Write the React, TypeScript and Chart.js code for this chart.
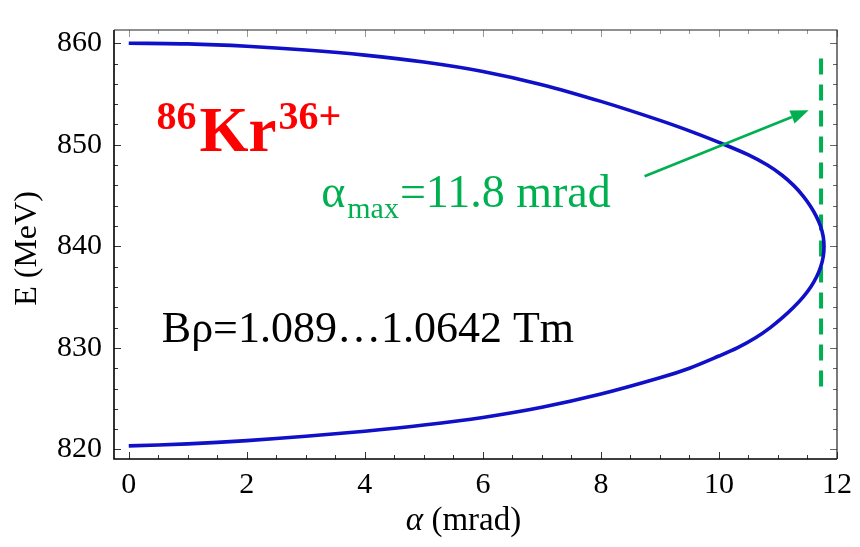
import React, { useEffect, useRef } from "react";
import { Chart, registerables } from "chart.js";

Chart.register(...registerables);

// E(α) curve of 86Kr36+, ordered from the top branch through the vertex to the bottom branch
const alphaMrad = [
  0, 1, 2, 3, 4, 5, 6, 7, 8, 9, 9.6, 10.1,
  10.5, 10.82, 11.07, 11.265, 11.42, 11.545, 11.645, 11.72, 11.765, 11.78,
  11.767, 11.725, 11.655, 11.555, 11.425, 11.265, 11.08, 10.87, 10.62, 10.31,
  10, 9.5, 9, 8, 7, 6, 5, 4, 3, 2, 1, 0,
];
const energyMeV = [
  860.0, 859.93, 859.7, 859.33, 858.83, 858.15, 857.22, 855.92, 854.27, 852.4, 851.15, 850.0,
  849.0, 848.0, 847.0, 846.0, 845.0, 844.0, 843.0, 842.0, 841.0, 840.0,
  839.0, 838.0, 837.0, 836.0, 835.0, 834.0, 833.0, 832.0, 831.0, 830.0,
  829.2, 828.0, 827.05, 825.45, 824.15, 823.15, 822.4, 821.8, 821.3, 820.87, 820.55, 820.35,
];

// α_max marker (dashed vertical line)
const alphaMaxLine = [11.73, 11.73];
const energyMaxLine = [858.5, 825.4];

// arrow from label to dashed line
const arrowAlpha = [8.74, 11.52];
const arrowEnergy = [846.9, 853.4];

const xTicks = [0, 2, 4, 6, 8, 10, 12];
const yTicks = [820, 830, 840, 850, 860];
const xMinorStep = 0.5;
const yMinorStep = 2;

const SERIF = "'Liberation Serif', 'Times New Roman', serif";
const GREEN = "#00b050";
const BLUE = "#1010c8";

const overlayPlugin = {
  id: "overlay",
  afterDraw(chart: any) {
    const ctx = chart.ctx as CanvasRenderingContext2D;
    const xs = chart.scales.x;
    const ys = chart.scales.y;
    const { left, right, top, bottom } = chart.chartArea;
    ctx.save();

    // inner ticks on all 4 sides
    const drawTicksX = (y: number, dir: number, color: string) => {
      ctx.strokeStyle = color;
      ctx.lineWidth = 1;
      for (let v = 0; v <= 12 + 1e-9; v += xMinorStep) {
        const major = Math.abs(v / 2 - Math.round(v / 2)) < 1e-6;
        const len = major ? 7 : 4;
        const px = Math.round(xs.getPixelForValue(v)) + 0.5;
        ctx.beginPath();
        ctx.moveTo(px, y);
        ctx.lineTo(px, y + dir * len);
        ctx.stroke();
      }
    };
    const drawTicksY = (x: number, dir: number, color: string) => {
      ctx.strokeStyle = color;
      ctx.lineWidth = 1;
      for (let v = 820; v <= 860 + 1e-9; v += yMinorStep) {
        const major = v % 10 === 0;
        const len = major ? 7 : 4;
        const py = Math.round(ys.getPixelForValue(v)) + 0.5;
        ctx.beginPath();
        ctx.moveTo(x, py);
        ctx.lineTo(x + dir * len, py);
        ctx.stroke();
      }
    };
    drawTicksX(bottom, -1, "#333");
    drawTicksX(top, 1, "#999");
    drawTicksY(left, 1, "#333");
    drawTicksY(right, -1, "#666");

    // frame
    ctx.strokeStyle = "#000";
    ctx.lineWidth = 1.6;
    ctx.beginPath();
    ctx.moveTo(left, top);
    ctx.lineTo(left, bottom);
    ctx.lineTo(right, bottom);
    ctx.stroke();
    ctx.lineWidth = 1.2;
    ctx.strokeStyle = "#222";
    ctx.beginPath();
    ctx.moveTo(left, top);
    ctx.lineTo(right, top);
    ctx.lineTo(right, bottom);
    ctx.stroke();

    // arrow
    const ax0 = xs.getPixelForValue(arrowAlpha[0]);
    const ay0 = ys.getPixelForValue(arrowEnergy[0]);
    const ax1 = xs.getPixelForValue(arrowAlpha[1]);
    const ay1 = ys.getPixelForValue(arrowEnergy[1]);
    const ang = Math.atan2(ay1 - ay0, ax1 - ax0);
    const headLen = 18;
    const headHalf = 7;
    const bx = ax1 - headLen * Math.cos(ang);
    const by = ay1 - headLen * Math.sin(ang);
    ctx.strokeStyle = GREEN;
    ctx.fillStyle = GREEN;
    ctx.lineWidth = 2.6;
    ctx.beginPath();
    ctx.moveTo(ax0, ay0);
    ctx.lineTo(bx, by);
    ctx.stroke();
    ctx.beginPath();
    ctx.moveTo(ax1, ay1);
    ctx.lineTo(bx + headHalf * Math.sin(ang), by - headHalf * Math.cos(ang));
    ctx.lineTo(bx - headHalf * Math.sin(ang), by + headHalf * Math.cos(ang));
    ctx.closePath();
    ctx.fill();

    ctx.textAlign = "left";
    ctx.textBaseline = "alphabetic";

    // 86Kr36+
    {
      let x = xs.getPixelForValue(0.47);
      const base = ys.getPixelForValue(849.36);
      ctx.fillStyle = "#ff0000";
      ctx.font = `bold 40px ${SERIF}`;
      ctx.fillText("86", x, base - 22);
      x += ctx.measureText("86").width + 3;
      ctx.font = `bold 63px ${SERIF}`;
      ctx.fillText("Kr", x, base);
      x += ctx.measureText("Kr").width + 2;
      ctx.font = `bold 40px ${SERIF}`;
      ctx.fillText("36+", x, base - 22);
    }

    // α_max = 11.8 mrad
    {
      let x = xs.getPixelForValue(3.26);
      const base = ys.getPixelForValue(843.9);
      ctx.fillStyle = GREEN;
      ctx.font = `46px ${SERIF}`;
      ctx.fillText("α", x, base);
      x += ctx.measureText("α").width + 2;
      ctx.font = `30px ${SERIF}`;
      ctx.fillText("max", x, base + 11);
      x += ctx.measureText("max").width + 1;
      ctx.font = `46px ${SERIF}`;
      ctx.fillText("=11.8 mrad", x, base);
    }

    // Bρ
    {
      const x = xs.getPixelForValue(0.56);
      const base = ys.getPixelForValue(830.54);
      ctx.fillStyle = "#000";
      ctx.font = `44px ${SERIF}`;
      ctx.fillText("Bρ=1.089…1.0642 Tm", x, base);
    }

    // axis titles
    {
      ctx.fillStyle = "#000";
      ctx.font = `32px ${SERIF}`;
      ctx.save();
      ctx.translate(28, (top + bottom) / 2 + 4);
      ctx.rotate(-Math.PI / 2);
      ctx.textAlign = "center";
      ctx.textBaseline = "middle";
      ctx.fillText("E (MeV)", 0, 0);
      ctx.restore();

      const cx = (left + right) / 2 - 12;
      const base = 530;
      ctx.font = `italic 33px ${SERIF}`;
      const wA = ctx.measureText("α").width;
      ctx.font = `33px ${SERIF}`;
      const rest = " (mrad)";
      const wR = ctx.measureText(rest).width;
      let x = cx - (wA + wR) / 2;
      ctx.textAlign = "left";
      ctx.font = `italic 33px ${SERIF}`;
      ctx.fillText("α", x, base);
      x += wA;
      ctx.font = `33px ${SERIF}`;
      ctx.fillText(rest, x, base);
    }

    ctx.restore();
  },
};

export default function App() {
  const canvasRef = useRef<HTMLCanvasElement | null>(null);

  useEffect(() => {
    const canvas = canvasRef.current;
    if (!canvas) return;
    const curve = alphaMrad.map((a, i) => ({ x: a, y: energyMeV[i] }));
    const marker = alphaMaxLine.map((a, i) => ({ x: a, y: energyMaxLine[i] }));

    const chart = new Chart(canvas, {
      type: "scatter",
      data: {
        datasets: [
          {
            label: "E(α)",
            data: curve,
            showLine: true,
            borderColor: BLUE,
            borderWidth: 3.6,
            pointRadius: 0,
            tension: 0.3,
            fill: false,
          },
          {
            label: "α max",
            data: marker,
            showLine: true,
            borderColor: GREEN,
            borderWidth: 4,
            borderDash: [16, 10],
            pointRadius: 0,
            fill: false,
          },
        ],
      },
      options: {
        responsive: false,
        animation: false,
        layout: { padding: { top: 10, right: 19, left: 0, bottom: 0 } },
        plugins: {
          legend: { display: false },
          tooltip: { enabled: false },
        },
        scales: {
          x: {
            type: "linear",
            position: "bottom",
            min: -0.25,
            max: 12,
            grid: { display: false, drawTicks: false },
            border: { display: false },
            ticks: {
              color: "#000",
              font: { family: SERIF, size: 30 },
              padding: 8,
              maxRotation: 0,
            },
            afterBuildTicks: (scale: any) => {
              scale.ticks = xTicks.map((v) => ({ value: v }));
            },
            afterFit: (scale: any) => {
              scale.height = 88;
            },
          },
          y: {
            type: "linear",
            min: 819.06,
            max: 861.3,
            grid: { display: false, drawTicks: false },
            border: { display: false },
            ticks: {
              color: "#000",
              font: { family: SERIF, size: 30 },
              padding: 12,
            },
            afterBuildTicks: (scale: any) => {
              scale.ticks = yTicks.map((v) => ({ value: v }));
            },
            afterFit: (scale: any) => {
              scale.width = 114;
            },
          },
        },
      },
      plugins: [overlayPlugin],
    });
    return () => chart.destroy();
  }, []);

  return (
    <div style={{ position: "fixed", left: 0, top: 0, width: 860, height: 547, background: "#fff" }}>
      <canvas ref={canvasRef} width={860} height={547} style={{ display: "block" }} />
    </div>
  );
}
